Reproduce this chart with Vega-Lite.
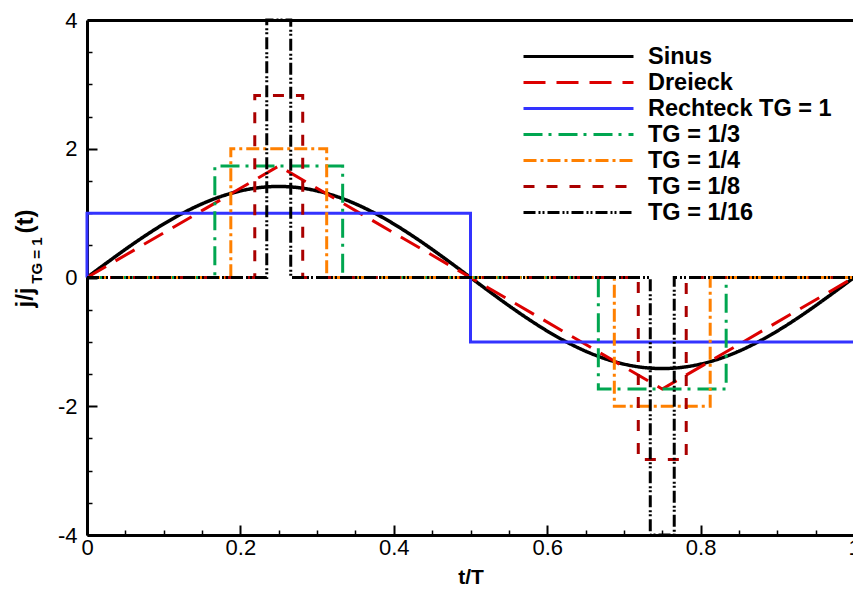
{
  "$schema": "https://vega.github.io/schema/vega-lite/v6.json",
  "width": 767,
  "height": 515,
  "autosize": "none",
  "padding": {"left": 87, "top": 20, "right": 0, "bottom": 57},
  "background": "white",
  "config": {
    "view": {"stroke": null},
    "font": "Liberation Sans",
    "legend": {
      "symbolType": "M-5,0H5",
      "symbolSize": 484,
      "symbolStrokeWidth": 3,
      "labelFont": "Liberation Sans",
      "labelFontSize": 23.5,
      "labelFontWeight": "bold",
      "labelColor": "black",
      "labelOffset": 57,
      "labelLimit": 400,
      "rowPadding": 2,
      "padding": 0,
      "title": null
    }
  },
  "datasets": {
    "sine": [
      {"s": "Sinus", "x": 0, "y": 0},
      {"s": "Sinus", "x": 0.025, "y": 0.2212},
      {"s": "Sinus", "x": 0.05, "y": 0.437},
      {"s": "Sinus", "x": 0.075, "y": 0.642},
      {"s": "Sinus", "x": 0.1, "y": 0.8313},
      {"s": "Sinus", "x": 0.125, "y": 1.0},
      {"s": "Sinus", "x": 0.15, "y": 1.1441},
      {"s": "Sinus", "x": 0.175, "y": 1.2601},
      {"s": "Sinus", "x": 0.2, "y": 1.345},
      {"s": "Sinus", "x": 0.225, "y": 1.3968},
      {"s": "Sinus", "x": 0.25, "y": 1.4142},
      {"s": "Sinus", "x": 0.275, "y": 1.3968},
      {"s": "Sinus", "x": 0.3, "y": 1.345},
      {"s": "Sinus", "x": 0.325, "y": 1.2601},
      {"s": "Sinus", "x": 0.35, "y": 1.1441},
      {"s": "Sinus", "x": 0.375, "y": 1.0},
      {"s": "Sinus", "x": 0.4, "y": 0.8313},
      {"s": "Sinus", "x": 0.425, "y": 0.642},
      {"s": "Sinus", "x": 0.45, "y": 0.437},
      {"s": "Sinus", "x": 0.475, "y": 0.2212},
      {"s": "Sinus", "x": 0.5, "y": 0},
      {"s": "Sinus", "x": 0.525, "y": -0.2212},
      {"s": "Sinus", "x": 0.55, "y": -0.437},
      {"s": "Sinus", "x": 0.575, "y": -0.642},
      {"s": "Sinus", "x": 0.6, "y": -0.8313},
      {"s": "Sinus", "x": 0.625, "y": -1.0},
      {"s": "Sinus", "x": 0.65, "y": -1.1441},
      {"s": "Sinus", "x": 0.675, "y": -1.2601},
      {"s": "Sinus", "x": 0.7, "y": -1.345},
      {"s": "Sinus", "x": 0.725, "y": -1.3968},
      {"s": "Sinus", "x": 0.75, "y": -1.4142},
      {"s": "Sinus", "x": 0.775, "y": -1.3968},
      {"s": "Sinus", "x": 0.8, "y": -1.345},
      {"s": "Sinus", "x": 0.825, "y": -1.2601},
      {"s": "Sinus", "x": 0.85, "y": -1.1441},
      {"s": "Sinus", "x": 0.875, "y": -1.0},
      {"s": "Sinus", "x": 0.9, "y": -0.8313},
      {"s": "Sinus", "x": 0.925, "y": -0.642},
      {"s": "Sinus", "x": 0.95, "y": -0.437},
      {"s": "Sinus", "x": 0.975, "y": -0.2212},
      {"s": "Sinus", "x": 1.0, "y": 0}
    ],
    "steps": [
      {"s": "Dreieck", "i": 0, "x": 0, "y": 0},
      {"s": "Dreieck", "i": 1, "x": 0.25, "y": 1.732},
      {"s": "Dreieck", "i": 2, "x": 0.75, "y": -1.732},
      {"s": "Dreieck", "i": 3, "x": 1, "y": 0},
      {"s": "Rechteck TG = 1", "i": 0, "x": 0, "y": 0},
      {"s": "Rechteck TG = 1", "i": 1, "x": 0, "y": 1},
      {"s": "Rechteck TG = 1", "i": 2, "x": 0.5, "y": 1},
      {"s": "Rechteck TG = 1", "i": 3, "x": 0.5, "y": -1},
      {"s": "Rechteck TG = 1", "i": 4, "x": 1, "y": -1},
      {"s": "TG = 1/3", "i": 0, "x": 0, "y": 0},
      {"s": "TG = 1/3", "i": 1, "x": 0.16667, "y": 0},
      {"s": "TG = 1/3", "i": 2, "x": 0.16667, "y": 1.732},
      {"s": "TG = 1/3", "i": 3, "x": 0.33333, "y": 1.732},
      {"s": "TG = 1/3", "i": 4, "x": 0.33333, "y": 0},
      {"s": "TG = 1/3", "i": 5, "x": 0.66667, "y": 0},
      {"s": "TG = 1/3", "i": 6, "x": 0.66667, "y": -1.732},
      {"s": "TG = 1/3", "i": 7, "x": 0.83333, "y": -1.732},
      {"s": "TG = 1/3", "i": 8, "x": 0.83333, "y": 0},
      {"s": "TG = 1/3", "i": 9, "x": 1, "y": 0},
      {"s": "TG = 1/4", "i": 0, "x": 0, "y": 0},
      {"s": "TG = 1/4", "i": 1, "x": 0.1875, "y": 0},
      {"s": "TG = 1/4", "i": 2, "x": 0.1875, "y": 2},
      {"s": "TG = 1/4", "i": 3, "x": 0.3125, "y": 2},
      {"s": "TG = 1/4", "i": 4, "x": 0.3125, "y": 0},
      {"s": "TG = 1/4", "i": 5, "x": 0.6875, "y": 0},
      {"s": "TG = 1/4", "i": 6, "x": 0.6875, "y": -2},
      {"s": "TG = 1/4", "i": 7, "x": 0.8125, "y": -2},
      {"s": "TG = 1/4", "i": 8, "x": 0.8125, "y": 0},
      {"s": "TG = 1/4", "i": 9, "x": 1, "y": 0},
      {"s": "TG = 1/8", "i": 0, "x": 0, "y": 0},
      {"s": "TG = 1/8", "i": 1, "x": 0.21875, "y": 0},
      {"s": "TG = 1/8", "i": 2, "x": 0.21875, "y": 2.828},
      {"s": "TG = 1/8", "i": 3, "x": 0.28125, "y": 2.828},
      {"s": "TG = 1/8", "i": 4, "x": 0.28125, "y": 0},
      {"s": "TG = 1/8", "i": 5, "x": 0.71875, "y": 0},
      {"s": "TG = 1/8", "i": 6, "x": 0.71875, "y": -2.828},
      {"s": "TG = 1/8", "i": 7, "x": 0.78125, "y": -2.828},
      {"s": "TG = 1/8", "i": 8, "x": 0.78125, "y": 0},
      {"s": "TG = 1/8", "i": 9, "x": 1, "y": 0},
      {"s": "TG = 1/16", "i": 0, "x": 0, "y": 0},
      {"s": "TG = 1/16", "i": 1, "x": 0.234375, "y": 0},
      {"s": "TG = 1/16", "i": 2, "x": 0.234375, "y": 4},
      {"s": "TG = 1/16", "i": 3, "x": 0.265625, "y": 4},
      {"s": "TG = 1/16", "i": 4, "x": 0.265625, "y": 0},
      {"s": "TG = 1/16", "i": 5, "x": 0.734375, "y": 0},
      {"s": "TG = 1/16", "i": 6, "x": 0.734375, "y": -4},
      {"s": "TG = 1/16", "i": 7, "x": 0.765625, "y": -4},
      {"s": "TG = 1/16", "i": 8, "x": 0.765625, "y": 0},
      {"s": "TG = 1/16", "i": 9, "x": 1, "y": 0}
    ]
  },
  "resolve": {"axis": {"x": "independent", "y": "independent"}},
  "layer": [
    {
      "data": {"name": "sine"},
      "mark": {"type": "point", "opacity": 0},
      "encoding": {
        "x": {"field": "x", "type": "quantitative", "scale": {"domain": [0, 1], "nice": false, "zero": false},
          "axis": {"orient": "bottom", "values": [0.05,0.1,0.15,0.25,0.3,0.35,0.45,0.5,0.55,0.65,0.7,0.75,0.85,0.9,0.95], "tickSize": -5, "tickWidth": 1.5, "tickColor": "black", "labels": false, "domain": false, "grid": false, "title": null}},
        "y": {"field": "y", "type": "quantitative", "scale": {"domain": [-4, 4], "nice": false, "zero": false},
          "axis": {"orient": "left", "values": [-3.5,-3,-2.5,-1.5,-1,-0.5,0.5,1,1.5,2.5,3,3.5], "tickSize": -5, "tickWidth": 1.5, "tickColor": "black", "labels": false, "domain": false, "grid": false,
            "title": "TG = 1", "titleFont": "Liberation Sans", "titleFontSize": 15, "titleFontWeight": "bold", "titleColor": "black", "titleAngle": 270, "titleAlign": "center", "titleBaseline": "alphabetic", "titleX": -46, "titleY": 240}}
      }
    },
    {
      "data": {"name": "sine"},
      "mark": {"type": "point", "opacity": 0},
      "encoding": {
        "x": {"field": "x", "type": "quantitative",
          "axis": {"orient": "top", "ticks": false, "labels": false, "domain": true, "domainColor": "black", "domainWidth": 3, "grid": false, "title": null}},
        "y": {"field": "y", "type": "quantitative",
          "axis": {"orient": "left", "ticks": false, "labels": false, "domain": false, "grid": false,
            "title": "(t)", "titleFont": "Liberation Sans", "titleFontSize": 24, "titleFontWeight": "bold", "titleColor": "black", "titleAngle": 270, "titleAlign": "center", "titleBaseline": "alphabetic", "titleX": -55, "titleY": 201}}
      }
    },
    {
      "data": {"name": "sine"},
      "mark": {"type": "line", "strokeWidth": 3.5, "interpolate": "monotone"},
      "encoding": {
        "x": {"field": "x", "type": "quantitative",
          "axis": {"orient": "bottom", "values": [0, 0.2, 0.4, 0.6, 0.8, 1], "format": "~g", "labelFlush": false, "tickSize": -10, "tickWidth": 2, "tickColor": "black", "domainColor": "black", "domainWidth": 3, "grid": false,
            "labelFont": "Liberation Sans", "labelFontSize": 22, "labelColor": "black", "labelPadding": 12,
            "title": "t/T", "titleFont": "Liberation Sans", "titleFontSize": 21, "titleFontWeight": "bold", "titleColor": "black", "titlePadding": 8}},
        "y": {"field": "y", "type": "quantitative",
          "axis": {"orient": "left", "values": [-4, -2, 0, 2, 4], "format": "~g", "labelExpr": "replace(datum.label, '\u2212', '-')", "tickSize": -10, "tickWidth": 2, "tickColor": "black", "domainColor": "black", "domainWidth": 3, "grid": false,
            "labelFont": "Liberation Sans", "labelFontSize": 22, "labelColor": "black", "labelPadding": 20,
            "title": "j/j", "titleFont": "Liberation Sans", "titleFontSize": 24, "titleFontWeight": "bold", "titleColor": "black", "titleAngle": 270, "titleAlign": "center", "titleBaseline": "alphabetic", "titleX": -55, "titleY": 277}},
        "color": {"field": "s", "type": "nominal",
          "scale": {"domain": ["Sinus", "Dreieck", "Rechteck TG = 1", "TG = 1/3", "TG = 1/4", "TG = 1/8", "TG = 1/16"],
                    "range": ["#000000", "#dd0000", "#3333ff", "#00a650", "#ff8000", "#aa0000", "#000000"]},
          "legend": {"orient": "none", "legendX": 479, "legendY": 24}},
        "strokeDash": {"field": "s", "type": "nominal",
          "scale": {"domain": ["Sinus", "Dreieck", "Rechteck TG = 1", "TG = 1/3", "TG = 1/4", "TG = 1/8", "TG = 1/16"],
                    "range": [[1, 0], [22, 11], [1, 0], [19, 6, 3, 7], [13, 4, 3, 4], [11, 12], [12, 3, 2, 2, 2, 3]]},
          "legend": {"orient": "none", "legendX": 479, "legendY": 24}}
      }
    },
    {
      "data": {"name": "steps"},
      "mark": {"type": "line", "strokeWidth": 3},
      "encoding": {
        "x": {"field": "x", "type": "quantitative", "axis": null},
        "y": {"field": "y", "type": "quantitative", "axis": null},
        "order": {"field": "i", "type": "quantitative"},
        "color": {"field": "s", "type": "nominal", "legend": {"orient": "none", "legendX": 479, "legendY": 24}},
        "strokeDash": {"field": "s", "type": "nominal", "legend": {"orient": "none", "legendX": 479, "legendY": 24}}
      }
    }
  ]
}
